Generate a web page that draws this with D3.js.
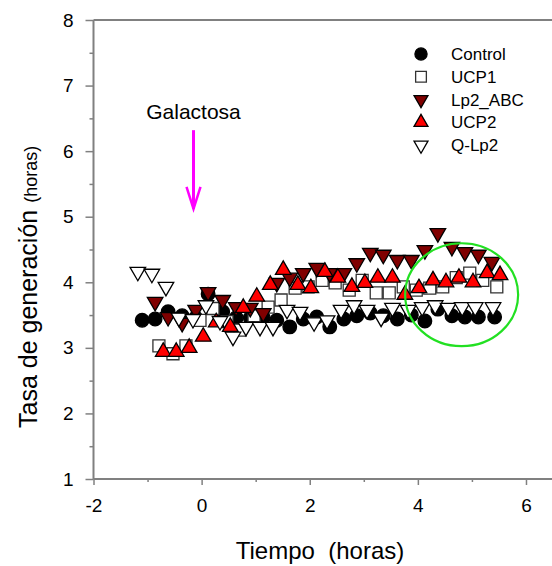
<!DOCTYPE html>
<html>
<head>
<meta charset="utf-8">
<script src="https://cdn.jsdelivr.net/npm/d3@7"></script>
<style>
  body { margin: 0; background: #fff; }
  svg { font-family: Arial, "Liberation Sans", sans-serif; }
</style>
</head>
<body>
<div id="chart"></div>
<script>
// ---- data ----
var controlX = [-1.10,-0.86,-0.62,-0.36,-0.11,0.12,0.39,0.64,0.90,1.14,1.39,1.63,1.88,2.13,2.37,2.63,2.87,3.12,3.36,3.62,3.88,4.13,4.37,4.63,4.87,5.12,5.42];
var controlY = [3.42,3.44,3.55,3.49,3.46,3.82,3.55,3.46,3.46,3.46,3.42,3.32,3.44,3.47,3.32,3.44,3.49,3.53,3.49,3.44,3.50,3.41,3.59,3.49,3.47,3.47,3.47];

var ucp1X = [-0.79,-0.53,-0.29,-0.03,0.21,0.47,0.71,0.97,1.23,1.47,1.73,1.97,2.23,2.47,2.73,2.97,3.23,3.47,3.73,3.97,4.22,4.46,4.71,4.96,5.20,5.46];
var ucp1Y = [3.03,2.91,3.03,3.42,3.60,3.40,3.27,3.49,3.62,3.73,3.91,3.93,4.03,3.99,3.88,4.03,3.84,3.84,3.93,3.88,3.91,3.93,4.07,4.14,4.03,3.93];

var lp2X = [-0.86,-0.62,-0.36,-0.11,0.12,0.39,0.64,0.90,1.14,1.39,1.63,1.88,2.13,2.37,2.63,2.87,3.12,3.36,3.62,3.88,4.13,4.37,4.63,4.87,5.12,5.37];
var lp2Y = [3.70,3.47,3.38,3.58,3.85,3.73,3.62,3.61,3.53,3.99,4.07,4.14,4.22,4.14,4.14,4.29,4.45,4.42,4.34,4.34,4.49,4.75,4.54,4.46,4.42,4.31];

var ucp2X = [-0.71,-0.47,-0.23,0.03,0.27,0.53,0.77,1.02,1.27,1.51,1.78,2.02,2.28,2.52,2.78,3.02,3.26,3.53,3.76,4.02,4.28,4.52,4.76,5.02,5.28,5.52];
var ucp2Y = [2.94,2.94,3.00,3.17,3.39,3.32,3.61,3.78,3.96,4.19,3.96,3.91,4.16,4.07,3.93,3.99,4.07,4.07,3.81,3.91,4.03,4.00,4.07,4.00,4.14,4.11];

var qlp2X = [-1.18,-0.92,-0.66,-0.42,-0.16,0.08,0.34,0.58,0.82,1.08,1.32,1.58,1.82,2.08,2.32,2.58,2.82,3.06,3.32,3.53,3.82,4.08,4.32,4.56,4.82,5.06,5.39];
var qlp2Y = [4.16,4.13,3.93,3.46,3.44,3.65,3.41,3.17,3.32,3.32,3.32,3.58,3.55,3.39,3.42,3.58,3.65,3.58,3.46,3.61,3.58,3.62,3.65,3.61,3.62,3.62,3.62];

var seriesNames = ["Control", "UCP1", "Lp2_ABC", "UCP2", "Q-Lp2"];
var xTicks = [-2,-1,0,1,2,3,4,5,6];
var yTicks = [1,1.5,2,2.5,3,3.5,4,4.5,5,5.5,6,6.5,7,7.5,8];

// annotations (data units)
var arrowX = -0.15, arrowTop = 6.32, arrowTip = 5.12;
var circleCx = 4.81, circleCy = 3.81, circleRx = 1.045, circleRy = 0.785;

var W = 552, H = 566,
    mLeft = 93.5, mTop = 20, mBottom = 479,
    axisCol = "#808080";

var svg = d3.select("#chart").append("svg")
  .attr("width", W).attr("height", H);

var x = d3.scaleLinear().domain([-2, 6.5]).range([mLeft, mLeft + 8.5 * 54.06]);
var y = d3.scaleLinear().domain([1, 8]).range([mBottom, mTop]);

// axes
var xAxis = d3.axisBottom(x).tickValues(xTicks)
  .tickSize(6).tickPadding(14)
  .tickFormat(function (d) { return d % 2 === 0 ? d : ""; });
var gx = svg.append("g").attr("transform", "translate(0," + mBottom + ")").call(xAxis);
gx.selectAll(".tick line").attr("y2", function (d) { return d % 2 === 0 ? 6 : 3; });

var yAxis = d3.axisLeft(y).tickValues(yTicks)
  .tickSize(8).tickPadding(12)
  .tickFormat(function (d) { return d % 1 === 0 ? d : ""; });
var gy = svg.append("g").attr("transform", "translate(" + mLeft + ",0)").call(yAxis);
gy.selectAll(".tick line").attr("x2", function (d) { return d % 1 === 0 ? -8 : -4; });

[gx, gy].forEach(function (g) {
  g.select(".domain").remove();
  g.selectAll(".tick line").attr("stroke", axisCol).attr("stroke-width", 1.5);
  g.selectAll(".tick text").attr("fill", "#000")
    .attr("font-family", "Arial, 'Liberation Sans', sans-serif")
    .attr("font-size", 19);
});

// frame lines: left, bottom, top
svg.append("line").attr("x1", mLeft).attr("x2", mLeft).attr("y1", mTop).attr("y2", mBottom)
  .attr("stroke", axisCol).attr("stroke-width", 2);
svg.append("line").attr("x1", mLeft).attr("x2", W).attr("y1", mBottom).attr("y2", mBottom)
  .attr("stroke", axisCol).attr("stroke-width", 2);
svg.append("line").attr("x1", mLeft).attr("x2", W).attr("y1", mTop).attr("y2", mTop)
  .attr("stroke", axisCol).attr("stroke-width", 2);

// marker styles
var styles = [
  { type: d3.symbolCircle, size: 145, fill: "#000", stroke: "#000", rot: 0 },
  { type: d3.symbolSquare, size: 144, fill: "#fff", stroke: "#333", rot: 0 },
  { type: d3.symbolTriangle, size: 105, fill: "#800000", stroke: "#000", rot: 180 },
  { type: d3.symbolTriangle, size: 105, fill: "#ff0000", stroke: "#000", rot: 0 },
  { type: d3.symbolTriangle, size: 105, fill: "#fff", stroke: "#000", rot: 180 }
];
var allX = [controlX, ucp1X, lp2X, ucp2X, qlp2X];
var allY = [controlY, ucp1Y, lp2Y, ucp2Y, qlp2Y];

allX.forEach(function (xs, si) {
  var st = styles[si];
  var pts = xs.map(function (v, i) { return { x: v, y: allY[si][i] }; });
  svg.append("g").selectAll("path").data(pts).enter().append("path")
    .attr("d", d3.symbol().type(st.type).size(st.size))
    .attr("transform", function (d) {
      return "translate(" + x(d.x) + "," + y(d.y) + ") rotate(" + st.rot + ")";
    })
    .attr("fill", st.fill).attr("stroke", st.stroke).attr("stroke-width", 1.3);
});

// legend
var lg = svg.append("g").attr("transform", "translate(421,54)");
seriesNames.forEach(function (name, i) {
  var st = styles[i];
  var row = lg.append("g").attr("transform", "translate(0," + (i * 22.8) + ")");
  row.append("path")
    .attr("d", d3.symbol().type(st.type).size(st.size * 0.8))
    .attr("transform", "rotate(" + st.rot + ")")
    .attr("fill", st.fill).attr("stroke", st.stroke).attr("stroke-width", 1.3);
  row.append("text").attr("x", 30).attr("y", 6)
    .style("font-size", "17px").text(name);
});

// Galactosa arrow
svg.append("text").attr("x", x(arrowX)).attr("y", 119)
  .attr("text-anchor", "middle").style("font-size", "21px").text("Galactosa");
var ax = x(arrowX), ay1 = y(arrowTop), ay2 = y(arrowTip);
svg.append("line").attr("x1", ax).attr("x2", ax).attr("y1", ay1).attr("y2", ay2)
  .attr("stroke", "#ff00ff").attr("stroke-width", 3);
svg.append("path")
  .attr("d", "M" + (ax - 7) + "," + (ay2 - 22) + "L" + ax + "," + ay2 + "L" + (ax + 7) + "," + (ay2 - 22))
  .attr("fill", "none").attr("stroke", "#ff00ff").attr("stroke-width", 2.5);

// green ellipse
svg.append("ellipse")
  .attr("cx", x(circleCx)).attr("cy", y(circleCy))
  .attr("rx", x(circleCx + circleRx) - x(circleCx))
  .attr("ry", y(circleCy - circleRy) - y(circleCy))
  .attr("fill", "none").attr("stroke", "#22e022").attr("stroke-width", 2.2);

// axis titles
svg.append("text").attr("x", 320).attr("y", 559)
  .attr("text-anchor", "middle").style("font-size", "24px")
  .style("white-space", "pre").text("Tiempo  (horas)");
var yt = svg.append("text").attr("transform", "translate(37,428) rotate(-90)")
  .attr("text-anchor", "start").style("font-size", "25px").style("white-space", "pre");
yt.append("tspan").text("Tasa de generación ");
yt.append("tspan").style("font-size", "18px").text("(horas)");
</script>
</body>
</html>
